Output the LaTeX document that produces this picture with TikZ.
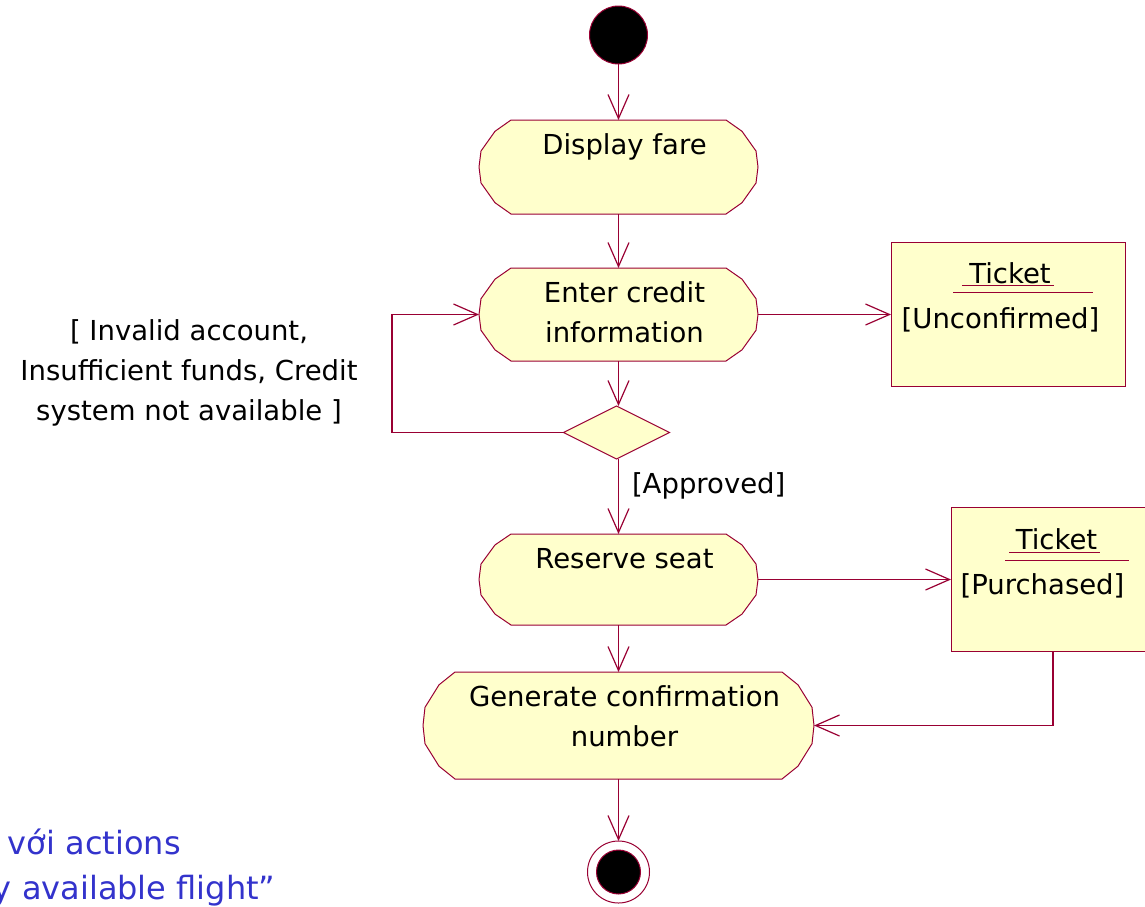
\documentclass[tikz,border=0pt]{standalone}
\usepackage{fontspec}
\setmainfont{DejaVu Sans}
\usetikzlibrary{arrows.meta,shapes.geometric,calc,backgrounds}
\definecolor{crim}{RGB}{153,0,51}
\definecolor{actfill}{RGB}{255,255,204}
\definecolor{noteblue}{RGB}{51,51,204}
\newcommand\actbox[3]{\parbox[c][#2pt][t]{#1pt}{\centering\leftskip=12pt plus 1fil\relax\vspace*{6pt}\strut #3}}
\newcommand\linesbox[2]{\parbox[t]{#1pt}{\centering\strut #2}}
\begin{document}
\begin{tikzpicture}[x=1pt,y=-1pt,
  every node/.style={font=\fontsize{27.5}{40}\selectfont, inner sep=0pt, outer sep=0pt},
  actshape/.style={draw=crim, fill=actfill, line width=1pt},
  flow/.style={draw=crim, line width=1.2pt, -{Straight Barb[length=24pt,width=21pt,line width=1.2pt]}},
  plainline/.style={draw=crim, line width=1.2pt},
  decision/.style={diamond, draw=crim, fill=actfill, line width=1pt, minimum width=106pt, minimum height=53pt},
  objbox/.style={rectangle, draw=crim, fill=actfill, line width=1pt},
  startnode/.style={circle, draw=crim, fill=black, minimum size=58pt, line width=1pt},
  endouter/.style={circle, draw=crim, fill=white, minimum size=62pt, line width=1pt},
  endinner/.style={circle, draw=crim, fill=black, minimum size=44pt, line width=1pt},
  guard/.style={text=black},
  note/.style={text=noteblue, font=\fontsize{32}{42}\selectfont}
]
\useasboundingbox (0,0) rectangle (1145,906);

% start
\node[startnode] (start) at (618.5,35) {};

% actions
\node (fare)    at (618.5,167)   {\actbox{279}{94}{Display fare}};
\node (credit)  at (618.5,314.5) {\actbox{279}{93}{Enter credit\\information}};
\node (reserve) at (618.5,579.5) {\actbox{279}{91}{Reserve seat}};
\node (gen)     at (618.5,725.5) {\actbox{391}{107}{Generate confirmation\\number}};

\begin{scope}[on background layer]
\foreach \n in {fare,credit,reserve,gen} {
  \draw[actshape]
    ($(\n.north west)+(32,0)$) -- ($(\n.north east)+(-32,0)$)
    -- ($(\n.north east)!0.12!(\n.south east)+(-16,0)$)
    -- ($(\n.north east)!0.33!(\n.south east)+(-2,0)$)
    -- (\n.east)
    -- ($(\n.north east)!0.67!(\n.south east)+(-2,0)$)
    -- ($(\n.north east)!0.88!(\n.south east)+(-16,0)$)
    -- ($(\n.south east)+(-32,0)$) -- ($(\n.south west)+(32,0)$)
    -- ($(\n.north west)!0.88!(\n.south west)+(16,0)$)
    -- ($(\n.north west)!0.67!(\n.south west)+(2,0)$)
    -- (\n.west)
    -- ($(\n.north west)!0.33!(\n.south west)+(2,0)$)
    -- ($(\n.north west)!0.12!(\n.south west)+(16,0)$)
    -- cycle;
}
\end{scope}

% decision
\node[decision] (dec) at (616.5,432.5) {};

% objects
\node[objbox, minimum width=234pt, minimum height=144pt] (tk1) at (1008,314.5) {};
\node[objbox, minimum width=200pt, minimum height=144pt] (tk2) at (1051,579.5) {};
\node[anchor=base] (tk1name)  at (1010,283) {Ticket};
\node[anchor=base] (tk1state) at (1000.5,328) {[Unconfirmed]};
\node[anchor=base] (tk2name)  at (1056.5,549) {Ticket};
\node[anchor=base] (tk2state) at (1042.5,594) {[Purchased]};
\draw[draw=crim, line width=1pt] (962,285) -- (1054,285);
\draw[draw=crim, line width=1pt] (953,292) -- (1093,292);
\draw[draw=crim, line width=1pt] (1009,552) -- (1100,552);
\draw[draw=crim, line width=1pt] (1005,560) -- (1129,560);

% end
\node[endouter] (end) at (618.5,872) {};
\node[endinner] (endin) at (end) {};

% guards
\node[guard, anchor=base] (g1) at (189,340) {\linesbox{380}{[ Invalid account,\\Insufficient funds, Credit\\system not available ]}};
\node[guard, anchor=base west] (g2) at (632,493) {[Approved]};

% connectors
\coordinate (loopc) at ($(dec.west)+(-171.5,0)$);
\coordinate (tk2out) at ($(tk2.south west)+(102,0)$);
\draw[flow] (start) -- (fare.north);
\draw[flow] (fare.south) -- (credit.north);
\draw[flow] (credit.south) -- (credit.south |- dec.north);
\draw[plainline] (dec.west) -- (loopc);
\draw[flow] (loopc) |- (credit.west);
\draw[flow] (credit.east) -- (tk1.west);
\draw[flow] (credit.south |- dec.south) -- (reserve.north);
\draw[flow] (reserve.east) -- (tk2.west);
\draw[flow] (reserve.south) -- (gen.north);
\draw[flow] (tk2out) |- (gen.east);
\draw[flow] (gen.south) -- (end.north);

% note text (cut at the left edge, as in the reference)
\node[note, anchor=base west] (n1) at (8,854) {với actions};
\node[note, anchor=base west] (n2) at (-7,899) {y available flight”};
\end{tikzpicture}
\end{document}
